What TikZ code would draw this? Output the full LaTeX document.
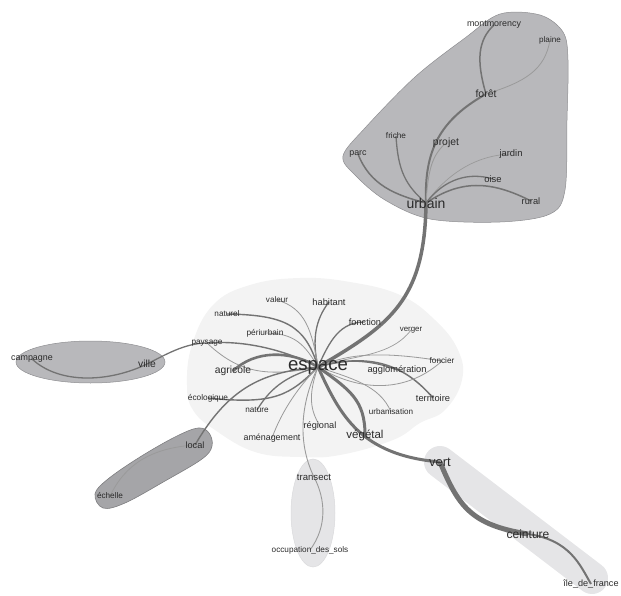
\documentclass[tikz,border=0pt]{standalone}
\usepackage{fontspec}
\setmainfont{Liberation Sans}
\pgfdeclarelayer{hulls}
\pgfdeclarelayer{edges}
\pgfsetlayers{hulls,edges,main}
\definecolor{txt}{HTML}{2B2B2B}
\definecolor{edgec}{HTML}{737373}
\definecolor{thinc}{HTML}{9A9A9A}
\definecolor{espfill}{HTML}{F3F3F3}
\definecolor{urbfill}{HTML}{B8B8BB}
\definecolor{urbline}{HTML}{8E8E91}
\definecolor{locfill}{HTML}{A5A5A8}
\definecolor{locline}{HTML}{7E7E80}
\definecolor{palefill}{HTML}{E5E5E7}
\definecolor{paleline}{HTML}{DADADC}
\tikzset{
  lab/.style={inner sep=0pt, text=txt, font=\fontsize{#1}{#1}\selectfont},
  ed/.style={draw=edgec, line width=#1},
  tn/.style={draw=thinc, line width=#1},
}
\begin{document}
\begin{tikzpicture}[x=1pt,y=-1pt]
\useasboundingbox (0,0) rectangle (621,596);
% ---------- nodes
\node[lab=8.9] (montmorency) at (494,25) {montmorency};
\node[lab=8.1] (plaine) at (550,40) {plaine};
\node[lab=10.5] (foret) at (486,94) {forêt};
\node[lab=8.2] (friche) at (396,136) {friche};
\node[lab=10.4] (projet) at (446,143) {projet};
\node[lab=8.9] (parc) at (358,154) {parc};
\node[lab=9.4] (jardin) at (511,154) {jardin};
\node[lab=9.4] (oise) at (493,179) {oise};
\node[lab=9.3] (rural) at (531,201) {rural};
\node[lab=14] (urbain) at (426,203) {urbain};
\node[lab=8.1] (valeur) at (277,300) {valeur};
\node[lab=9.3] (habitant) at (329,302) {habitant};
\node[lab=8.2] (naturel) at (227,314) {naturel};
\node[lab=9.2] (fonction) at (365,322) {fonction};
\node[lab=8.3] (periurbain) at (265,333) {périurbain};
\node[lab=7.9] (verger) at (411,330) {verger};
\node[lab=8.2] (paysage) at (207,343) {paysage};
\node[lab=18.6] (espace) at (318,367) {espace};
\node[lab=8.2] (foncier) at (442,361) {foncier};
\node[lab=10.3] (agricole) at (233,371) {agricole};
\node[lab=9.3] (agglo) at (397,370) {agglomération};
\node[lab=9.3] (territoire) at (433,398) {territoire};
\node[lab=8.3] (ecologique) at (208,398) {écologique};
\node[lab=8.2] (nature) at (257,410) {nature};
\node[lab=8.1] (urbanisation) at (391,412) {urbanisation};
\node[lab=9.2] (regional) at (320,426) {régional};
\node[lab=11.5] (vegetal) at (365,435) {végétal};
\node[lab=8.9] (amenagement) at (272,438) {aménagement};
\node[lab=9.2] (local) at (195,445) {local};
\node[lab=8.9] (campagne) at (32,359) {campagne};
\node[lab=10.3] (ville) at (147,364) {ville};
\node[lab=8.2] (echelle) at (110,496) {échelle};
\node[lab=9.6] (transect) at (314,477) {transect};
\node[lab=8.2] (occupation) at (310,550) {occupation\_des\_sols};
\node[lab=13] (vert) at (440,462) {vert};
\node[lab=12] (ceinture) at (528,534) {ceinture};
\node[lab=9.1] (iledefrance) at (591,584) {île\_de\_france};
% ---------- hulls
\begin{pgfonlayer}{hulls}
\fill[espfill] plot[smooth cycle, tension=0.7] coordinates {(187,385) (192,345) (213,305) (250,285) (300,278) (350,282) (400,295) (435,320) (458,350) (462,380) (445,410) (420,423) (393,440) (340,455) (300,457) (255,452) (215,430) (193,410)};
\filldraw[fill=urbfill, draw=urbline, line width=0.5] plot[smooth cycle, tension=0.55] coordinates {(343,156) (365,128) (415,77) (465,38) (500,14) (540,15) (563,32) (568,60) (567,120) (565,190) (550,214) (500,222) (430,219) (385,200) (355,175)};
\filldraw[fill=urbfill, draw=urbline, line width=0.5] (90.5,362) ellipse [x radius=74.5, y radius=21];
\filldraw[fill=locfill, draw=locline, line width=0.6] plot[smooth cycle, tension=0.6] coordinates {(95,494) (108,479) (140,457) (175,437) (198,428) (209,433) (212,446) (202,459) (165,481) (125,503) (103,508)};
\filldraw[fill=palefill, draw=paleline, line width=0.5] (313,513) ellipse [x radius=22, y radius=54];
\draw[palefill, line width=32, line cap=round] (440,462) -- (592,578);
\end{pgfonlayer}
% ---------- edges
\begin{pgfonlayer}{edges}
% urbain cluster
\draw[ed=2] (urbain.center) .. controls (424,150) and (440,120) .. (foret.center);
\draw[ed=1.5] (foret.center) .. controls (476,60) and (478,40) .. (montmorency.center);
\draw[tn=0.8] (foret.center) .. controls (525,82) and (545,70) .. (plaine.center);
\draw[ed=1.5] (urbain.center) .. controls (395,195) and (370,185) .. (parc.center);
\draw[ed=1.3] (urbain.center) .. controls (405,185) and (398,170) .. (friche.center);
\draw[tn=0.9] (urbain.center) .. controls (428,170) and (432,155) .. (projet.center);
\draw[tn=0.7] (urbain.center) .. controls (450,170) and (480,155) .. (jardin.center);
\draw[ed=1.3] (urbain.center) .. controls (445,178) and (470,172) .. (oise.center);
\draw[ed=1.5] (urbain.center) .. controls (460,180) and (490,180) .. (rural.center);
\draw[ed=3.5] (urbain.center) .. controls (425,300) and (390,325) .. (espace.center);
% espace cluster
\draw[ed=1.3] (espace.center) .. controls (312,340) and (315,320) .. (habitant.center);
\draw[tn=0.8] (espace.center) .. controls (312,330) and (305,308) .. (valeur.center);
\draw[ed=1.4] (espace.center) .. controls (305,325) and (285,315) .. (naturel.center);
\draw[tn=0.8] (espace.center) .. controls (305,345) and (295,333) .. (periurbain.center);
\draw[ed=1.3] (espace.center) .. controls (330,340) and (340,322) .. (fonction.center);
\draw[tn=0.7] (espace.center) .. controls (350,355) and (390,358) .. (verger.center);
\draw[ed=1.4] (espace.center) .. controls (285,350) and (245,340) .. (paysage.center);
\draw[tn=0.8] (espace.center) .. controls (265,378) and (238,372) .. (paysage.center);
\draw[ed=2.6] (espace.center) .. controls (290,350) and (255,350) .. (agricole.center);
\draw[ed=1.4] (espace.center) .. controls (290,395) and (275,405) .. (ecologique.center);
\draw[ed=1.4] (espace.center) .. controls (265,372) and (230,385) .. (local.center);
\draw[ed=1.3] (espace.center) .. controls (290,375) and (272,385) .. (nature.center);
\draw[tn=0.8] (espace.center) .. controls (300,385) and (282,410) .. (amenagement.center);
\draw[tn=0.8] (espace.center) .. controls (308,395) and (310,410) .. (regional.center);
\draw[tn=0.9] (espace.center) .. controls (302,400) and (296,440) .. (transect.center);
\draw[tn=0.9] (transect.center) .. controls (326,500) and (327,527) .. (occupation.center);
\draw[ed=1.2] (espace.center) .. controls (345,358) and (372,360) .. (agglo.center);
\draw[ed=1.5] (espace.center) .. controls (370,352) and (405,365) .. (territoire.center);
\draw[tn=0.8] (espace.center) .. controls (365,395) and (410,390) .. (foncier.center);
\draw[tn=0.8] (espace.center) .. controls (345,355) and (375,350) .. (foncier.center);
\draw[tn=0.8] (espace.center) .. controls (350,378) and (380,385) .. (urbanisation.center);
\draw[ed=3] (espace.center) .. controls (350,390) and (365,400) .. (vegetal.center);
\draw[ed=3] (espace.center) .. controls (340,415) and (360,455) .. (vert.center);
\draw[ed=5] (vert.center) .. controls (458,505) and (470,525) .. (ceinture.center);
\draw[ed=2] (ceinture.center) .. controls (570,540) and (580,565) .. (iledefrance.center);
% left clusters
\draw[ed=1.3] (ville.center) .. controls (165,355) and (185,343) .. (paysage.center);
\draw[ed=1.3] (campagne.center) .. controls (60,385) and (110,382) .. (ville.center);
\draw[tn=0.8] (local.center) .. controls (150,448) and (125,465) .. (echelle.center);
\end{pgfonlayer}
\end{tikzpicture}
\end{document}
